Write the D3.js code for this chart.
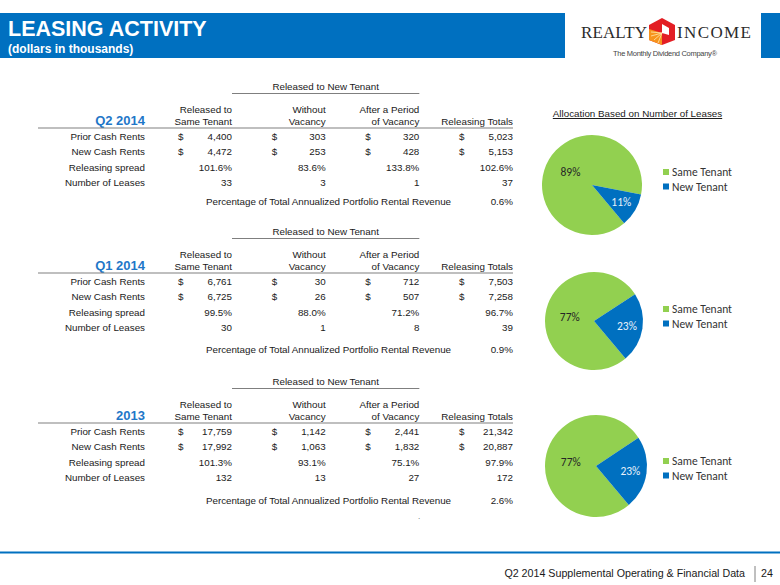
<!DOCTYPE html>
<html><head><meta charset="utf-8">
<script src="https://cdn.jsdelivr.net/npm/d3@7/dist/d3.min.js"></script>
<style>body{margin:0;background:#fff}svg{display:block}</style>
</head><body><svg id="c" width="780" height="585"></svg>
<script>
// ---------- data ----------
const periods = ["Q2 2014", "Q1 2014", "2013"];
const rowLabels = ["Prior Cash Rents", "New Cash Rents", "Releasing spread", "Number of Leases"];
const colHeads = [["Released to", "Same Tenant"], ["Without", "Vacancy"], ["After a Period", "of Vacancy"], ["", "Releasing Totals"]];
const priorCash = [[4400, 303, 320, 5023], [6761, 30, 712, 7503], [17759, 1142, 2441, 21342]];
const newCash = [[4472, 253, 428, 5153], [6725, 26, 507, 7258], [17992, 1063, 1832, 20887]];
const spread = [[101.6, 83.6, 133.8, 102.6], [99.5, 88.0, 71.2, 96.7], [101.3, 93.1, 75.1, 97.9]];
const leases = [[33, 3, 1, 37], [30, 1, 8, 39], [132, 13, 27, 172]];
const pctRevenue = [0.6, 0.9, 2.6];
const pieCats = ["Same Tenant", "New Tenant"];

// ---------- layout ----------
const svg = d3.select("#c");
const BLUE = "#0070C0", GREEN = "#92D050";
const F = "Liberation Sans, Arial, sans-serif";
const FS = 9.8;
const tableTop = [90, 235, 385];     // baseline of "Released to New Tenant"
const pctGap = [19, 22, 23];
const pieCenter = [[592, 185], [594, 321], [596, 466]];
const pieR = [50, 49, 51];
const legendY = [172, 309, 461];

// header band
svg.append("rect").attr("x", 0).attr("y", 13).attr("width", 565).attr("height", 45).attr("fill", BLUE);
svg.append("rect").attr("x", 761).attr("y", 13).attr("width", 19).attr("height", 45).attr("fill", BLUE);
svg.append("text").attr("x", 8).attr("y", 36).attr("fill", "#fff").attr("font-family", F).attr("font-weight", "bold").attr("font-size", 21.5).text("LEASING ACTIVITY");
svg.append("text").attr("x", 8).attr("y", 53).attr("fill", "#fff").attr("font-family", F).attr("font-weight", "bold").attr("font-size", 12).text("(dollars in thousands)");

// logo
const SERIF = "Liberation Serif, Times New Roman, serif";
svg.append("text").attr("x", 581).attr("y", 38).attr("font-family", SERIF).attr("font-size", 17).attr("fill", "#2b2b2b").attr("textLength", 66).text("REALTY");
svg.append("text").attr("x", 677).attr("y", 38).attr("font-family", SERIF).attr("font-size", 17).attr("fill", "#2b2b2b").attr("textLength", 74).text("INCOME");
svg.append("polygon").attr("points", "662,18 675,25 675,40 662,45 649,40 649,25").attr("fill", "#E31E24");
svg.append("polygon").attr("points", "649,29 662,33 662,45 649,40").attr("fill", "#F7941D");
[[651,36],[654,40],[658,43],[651,32]].forEach(p => svg.append("line").attr("x1", 662).attr("y1", 33).attr("x2", p[0]).attr("y2", p[1]).attr("stroke", "#FFE7B0").attr("stroke-width", 0.8));
svg.append("polygon").attr("points", "662,24 669,28 669,35 662,33").attr("fill", "#fff");
svg.append("text").attr("x", 665).attr("y", 56).attr("text-anchor", "middle").attr("font-family", F).attr("font-size", 7.5).attr("fill", "#444").attr("textLength", 104).text("The Monthly Dividend Company®");

// ---------- tables ----------
const xCol = d3.scalePoint().domain([0, 1, 2, 3]).range([232, 513]);
const dollarOff = 54;
const fmtNum = d3.format(",");
const fmtPct = v => v.toFixed(1) + "%";
const TXT = "#1a1a1a";

periods.forEach((p, t) => {
  const y0 = tableTop[t];
  const g = svg.append("g").attr("font-family", F).attr("font-size", FS).attr("fill", TXT);
  g.append("text").attr("x", (xCol(0) + xCol(2)) / 2).attr("y", y0).attr("text-anchor", "middle").text("Released to New Tenant");
  g.append("line").attr("x1", xCol(0)).attr("x2", xCol(2)).attr("y1", y0 + 3.5).attr("y2", y0 + 3.5).attr("stroke", "#7f7f7f").attr("stroke-width", 1);
  colHeads.forEach((h, i) => {
    g.append("text").attr("x", xCol(i)).attr("y", y0 + 23).attr("text-anchor", "end").text(h[0]);
    g.append("text").attr("x", xCol(i)).attr("y", y0 + 35).attr("text-anchor", "end").text(h[1]);
  });
  g.append("text").attr("x", 145).attr("y", y0 + 35).attr("text-anchor", "end").attr("font-size", 13).attr("font-weight", "bold").attr("fill", "#1F77C8").text(p);
  g.append("line").attr("x1", 38).attr("x2", 513).attr("y1", y0 + 38).attr("y2", y0 + 38).attr("stroke", "#808080").attr("stroke-width", 1.2);

  const yRow = d3.scalePoint().domain(rowLabels).range([y0 + 50, y0 + 96]);
  const rows = [priorCash[t], newCash[t], spread[t], leases[t]];
  rowLabels.forEach((lab, r) => {
    g.append("text").attr("x", 145).attr("y", yRow(lab)).attr("text-anchor", "end").text(lab);
    rows[r].forEach((v, i) => {
      if (r < 2) g.append("text").attr("x", xCol(i) - dollarOff).attr("y", yRow(lab)).text("$");
      g.append("text").attr("x", xCol(i)).attr("y", yRow(lab)).attr("text-anchor", "end")
        .text(r < 2 ? fmtNum(v) : r === 2 ? fmtPct(v) : v);
    });
  });
  const yp = yRow(rowLabels[3]) + pctGap[t];
  g.append("text").attr("x", 451).attr("y", yp).attr("text-anchor", "end").attr("textLength", 245).text("Percentage of Total Annualized Portfolio Rental Revenue");
  g.append("text").attr("x", xCol(3)).attr("y", yp).attr("text-anchor", "end").text(pctRevenue[t].toFixed(1) + "%");
});
svg.append("text").attr("x", 418).attr("y", 519).attr("font-family", F).attr("font-size", 8).attr("fill", "#555").text(".");

// ---------- pies ----------
svg.append("text").attr("x", 637.5).attr("y", 117).attr("text-anchor", "middle").attr("font-family", F).attr("font-size", FS).attr("fill", TXT).attr("text-decoration", "underline").text("Allocation Based on Number of Leases");

const color = d3.scaleOrdinal().domain(pieCats).range([GREEN, BLUE]);
const pie = d3.pie().sort(null).value(d => d.v).startAngle(140 * Math.PI / 180).endAngle((140 + 360) * Math.PI / 180);
const LF = "Carlito, Lato, 'Open Sans', sans-serif";
periods.forEach((p, t) => {
  const L = leases[t];
  const data = [{k: pieCats[0], v: L[0]}, {k: pieCats[1], v: L[1] + L[2]}];
  const tot = d3.sum(data, d => d.v);
  const r = pieR[t];
  const arc = d3.arc().innerRadius(0).outerRadius(r);
  const g = svg.append("g").attr("transform", `translate(${pieCenter[t][0]},${pieCenter[t][1]})`);
  const arcs = pie(data);
  g.selectAll("path").data(arcs).join("path").attr("d", arc).attr("fill", d => color(d.data.k));
  arcs.forEach((a, i) => {
    const lr = i === 0 ? r * 0.5 : r * 0.68;
    const c = d3.arc().innerRadius(lr).outerRadius(lr).centroid(a);
    g.append("text").attr("x", c[0]).attr("y", c[1]).attr("dy", "0.35em").attr("text-anchor", "middle")
      .attr("font-family", LF).attr("font-size", 11.5).attr("fill", i === 0 ? "#262626" : "#e8f1fb")
      .text(d3.format(".0%")(a.data.v / tot));
  });
  const lg = svg.append("g").attr("font-family", LF).attr("font-size", 11.5).attr("fill", "#333");
  pieCats.forEach((k, i) => {
    const y = legendY[t] + i * 14.5;
    lg.append("rect").attr("x", 663).attr("y", y - 3).attr("width", 6).attr("height", 6).attr("fill", color(k));
    lg.append("text").attr("x", 672).attr("y", y).attr("dy", "0.35em").text(k);
  });
});

// ---------- footer ----------
svg.append("line").attr("x1", 0).attr("x2", 780).attr("y1", 552.5).attr("y2", 552.5).attr("stroke", BLUE).attr("stroke-width", 1.8);
svg.append("text").attr("x", 745).attr("y", 577).attr("text-anchor", "end").attr("font-family", F).attr("font-size", 10.7).attr("fill", "#1a1a1a").text("Q2 2014 Supplemental Operating & Financial Data");
svg.append("line").attr("x1", 755).attr("x2", 755).attr("y1", 566).attr("y2", 582).attr("stroke", "#808080").attr("stroke-width", 1);
svg.append("text").attr("x", 761).attr("y", 577).attr("font-family", F).attr("font-size", 10.7).attr("fill", "#1a1a1a").text("24");
</script></body></html>
